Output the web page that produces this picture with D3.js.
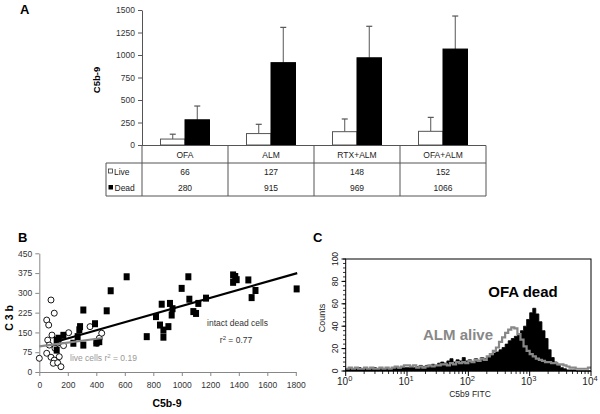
<!DOCTYPE html>
<html><head><meta charset="utf-8">
<script src="https://cdn.jsdelivr.net/npm/d3@7"></script>
<style>body{margin:0;background:#fff} svg{display:block;font-family:Arial,"Liberation Sans",sans-serif}</style>
</head><body><svg id="c" width="600" height="414"></svg>
<script>
// ---------- Panel A data ----------
const categories = ["OFA","ALM","RTX+ALM","OFA+ALM"];
const liveValues = [66,127,148,152];
const deadValues = [280,915,969,1066];
const liveErrors = [54,103,141,155];
const deadErrors = [153,392,350,367];
const barTicks = [0,250,500,750,1000,1250,1500];

// ---------- Panel B data: [C5b-9, C3b] ----------
const liveCells = [[0,52],[82,273],[105,223],[52,197],[66,178],[89,140],[59,121],[70,102],[52,71],[82,56],
  [105,45],[98,33],[129,35],[152,20],[140,58],[206,149],[356,172],[405,109],[421,128],[438,147],[130,110],[110,90],[170,100]];
const deadCells = [[122,83],[122,121],[136,128],[169,139],[239,109],[269,134],[281,160],[286,172],[309,102],[309,235],
  [391,183],[400,110],[421,115],[473,232],[501,308],[613,361],[754,134],[819,210],[847,178],[859,257],[871,159],[871,132],
  [906,172],[917,260],[929,216],[935,240],[999,317],[1046,361],[1053,276],[1081,229],[1100,222],[1116,260],[1170,280],
  [1360,368],[1375,362],[1360,340],[1385,350],[1467,349],[1490,282],[1517,309],[1806,315]];
const liveFit = [[0,97],[445,129]];
const deadFit = [[105,113],[1810,375]];
const scatterXTicks = [0,200,400,600,800,1000,1200,1400,1600,1800];
const scatterYTicks = [0,75,150,225,300,375,450];

// ---------- Panel C data: 20 bins per decade, 10^0 .. 10^4 ----------
const binsPerDecade = 20;
const ofaDead = [2,3,2,2,3,2,3,2,2,3,2,3,2,3,2,3,3,2,3,3,
  3,4,3,4,5,4,5,5,6,5,7,8,7,9,11,8,10,9,12,9,
  10,8,11,9,12,11,13,14,16,17,19,21,24,27,29,31,33,36,40,46,
  52,56,51,44,36,29,19,12,8,5,3,2,1,1,1,0,0,0,0,0];
const almAlive = [2,3,2,3,2,2,3,2,3,2,2,3,2,3,2,3,4,3,4,5,
  5,4,5,3,4,3,4,5,4,5,5,6,6,5,7,6,8,7,8,7,
  9,8,10,9,11,10,13,15,18,21,26,30,34,37,39,38,33,28,22,18,
  15,13,11,10,9,8,8,7,7,6,6,5,4,3,3,2,2,2,2,3];
const histYTicks = [0,20,40,60,80,100];
const histXDecades = [0,1,2,3,4];

const svg = d3.select("#c");

// ================= Panel A =================
const gA = svg.append("g");
gA.append("text").attr("x",20).attr("y",14).attr("font-size",13).attr("font-weight","bold").text("A");
const xA = d3.scaleBand().domain(categories).range([142,486]).padding(0);
const xIn = d3.scaleBand().domain(["live","dead"]).range([0,xA.bandwidth()]).paddingInner(0).paddingOuter(0.755);
const yA = d3.scaleLinear().domain([0,1500]).range([145,10]);

const axA = gA.append("g").attr("transform","translate(142,0)")
  .call(d3.axisLeft(yA).tickValues(barTicks).tickFormat(d3.format("d")).tickSize(4).tickSizeOuter(0));
axA.select(".domain").attr("stroke","#555");
axA.selectAll(".tick line").attr("stroke","#555");
axA.selectAll("text").attr("font-size",8.5).attr("fill","#333").attr("font-family","Arial, 'Liberation Sans', sans-serif");
gA.append("text").attr("transform","translate(100,80) rotate(-90)").attr("text-anchor","middle")
  .attr("font-size",9.5).attr("font-weight","bold").text("C5b-9");

const barData = categories.map((c,i)=>[
  {c, k:"live", v:liveValues[i], e:liveErrors[i]},
  {c, k:"dead", v:deadValues[i], e:deadErrors[i]}]).flat();
gA.selectAll(".err").data(barData).join("g").each(function(d){
  const cx = xA(d.c)+xIn(d.k)+xIn.bandwidth()/2;
  const g = d3.select(this);
  g.append("line").attr("x1",cx).attr("x2",cx).attr("y1",yA(d.v)).attr("y2",yA(d.v+d.e)).attr("stroke","#555").attr("stroke-width",1);
  g.append("line").attr("x1",cx-3).attr("x2",cx+3).attr("y1",yA(d.v+d.e)).attr("y2",yA(d.v+d.e)).attr("stroke","#555").attr("stroke-width",1.2);
});
gA.selectAll(".bar").data(barData).join("rect")
  .attr("x",d=>xA(d.c)+xIn(d.k)).attr("width",xIn.bandwidth())
  .attr("y",d=>yA(d.v)).attr("height",d=>yA(0)-yA(d.v))
  .attr("fill",d=>d.k==="live"?"#fff":"#000").attr("stroke",d=>d.k==="live"?"#555":"#000").attr("stroke-width",1);

// table
const tTop=145.5, r1=163, tBot=196, legL=106;
const tl = gA.append("g").attr("stroke","#555").attr("stroke-width",1);
tl.append("line").attr("x1",142).attr("x2",486).attr("y1",tTop).attr("y2",tTop);
tl.append("line").attr("x1",legL).attr("x2",486).attr("y1",r1).attr("y2",r1);
tl.append("line").attr("x1",legL).attr("x2",486).attr("y1",tBot).attr("y2",tBot);
tl.append("line").attr("x1",legL).attr("x2",legL).attr("y1",r1).attr("y2",tBot);
const bounds = categories.map(c=>xA(c)).concat([xA.range()[1]]);
tl.selectAll(".vl").data(bounds).join("line").attr("x1",d=>d).attr("x2",d=>d).attr("y1",tTop).attr("y2",tBot);
const tt = gA.append("g").attr("font-size",8.5).attr("fill","#222").attr("text-anchor","middle");
tt.selectAll(".cat").data(categories).join("text").attr("x",d=>xA(d)+xA.bandwidth()/2).attr("y",157.5).text(d=>d);
tt.selectAll(".lv").data(liveValues).join("text").attr("x",(d,i)=>xA(categories[i])+xA.bandwidth()/2).attr("y",175).text(d=>d);
tt.selectAll(".dv").data(deadValues).join("text").attr("x",(d,i)=>xA(categories[i])+xA.bandwidth()/2).attr("y",191).text(d=>d);
gA.append("rect").attr("x",108.5).attr("y",169).attr("width",4).attr("height",4).attr("fill","#fff").attr("stroke","#333").attr("stroke-width",0.8);
gA.append("rect").attr("x",108.5).attr("y",185).attr("width",4.5).attr("height",4.5).attr("fill","#000");
gA.append("text").attr("x",114).attr("y",175).attr("font-size",8.5).attr("fill","#222").text("Live");
gA.append("text").attr("x",114.5).attr("y",191).attr("font-size",8.5).attr("fill","#222").text("Dead");

// ================= Panel B =================
const gB = svg.append("g");
gB.append("text").attr("x",18).attr("y",241.5).attr("font-size",13).attr("font-weight","bold").text("B");
const xB = d3.scaleLinear().domain([0,1800]).range([39.3,295.8]);
const yB = d3.scaleLinear().domain([0,450]).range([372,253.3]);
const axBx = gB.append("g").attr("transform","translate(0,372)")
  .call(d3.axisBottom(xB).tickValues(scatterXTicks).tickFormat(d3.format("d")).tickSize(4).tickSizeOuter(0));
const axBy = gB.append("g").attr("transform","translate(39.3,0)")
  .call(d3.axisLeft(yB).tickValues(scatterYTicks).tickFormat(d3.format("d")).tickSize(4).tickSizeOuter(0));
[axBx,axBy].forEach(a=>{
  a.select(".domain").attr("stroke","#888");
  a.selectAll(".tick line").attr("stroke","#888");
  a.selectAll("text").attr("font-size",8.5).attr("fill","#333").attr("font-family","Arial, 'Liberation Sans', sans-serif");
});
axBx.selectAll("text").attr("dy","1.1em");
gB.append("text").attr("x",167).attr("y",407).attr("text-anchor","middle").attr("font-size",10.5).attr("font-weight","bold").text("C5b-9");
gB.append("text").attr("transform","translate(13,318) rotate(-90)").attr("text-anchor","middle").attr("font-size",10.5).attr("font-weight","bold").text("C 3 b");

gB.selectAll(".lc").data(liveCells).join("circle")
  .attr("cx",d=>xB(d[0])).attr("cy",d=>yB(d[1])).attr("r",3).attr("fill","#fff").attr("stroke","#000").attr("stroke-width",0.9);
gB.selectAll(".dc").data(deadCells).join("rect")
  .attr("x",d=>xB(d[0])-3).attr("y",d=>yB(d[1])-3.5).attr("width",6).attr("height",7).attr("fill","#000");
const lineB = d3.line().x(d=>xB(d[0])).y(d=>yB(d[1]));
gB.append("path").attr("d",lineB(deadFit)).attr("stroke","#000").attr("stroke-width",2.2).attr("fill","none");
gB.append("path").attr("d",lineB(liveFit)).attr("stroke","#888").attr("stroke-width",2.2).attr("fill","none");

const lt = gB.append("text").attr("x",70).attr("y",361).attr("font-size",8.5).attr("fill","#999");
lt.append("tspan").text("live cells r");
lt.append("tspan").attr("dy",-3).attr("font-size",6).text("2");
lt.append("tspan").attr("dy",3).text(" = 0.19");
gB.append("text").attr("x",237.5).attr("y",326).attr("text-anchor","middle").attr("font-size",8.5).attr("fill","#333").text("intact dead cells");
const rt = gB.append("text").attr("x",236).attr("y",342.5).attr("text-anchor","middle").attr("font-size",8.5).attr("fill","#333");
rt.append("tspan").text("r");
rt.append("tspan").attr("dy",-3).attr("font-size",6).text("2");
rt.append("tspan").attr("dy",3).text(" = 0.77");

// ================= Panel C =================
const gC = svg.append("g");
gC.append("text").attr("x",313).attr("y",242).attr("font-size",13).attr("font-weight","bold").text("C");
const xC = d3.scaleLog().domain([1,1e4]).range([345.7,591]);
const yC = d3.scaleLinear().domain([0,100]).range([371,259]);
const edge = i => Math.pow(10, i/binsPerDecade);
const stepPts = arr => arr.map((v,i)=>[edge(i),v]).concat([[edge(arr.length),arr[arr.length-1]]]);
const areaC = d3.area().curve(d3.curveStepAfter).x(d=>xC(d[0])).y0(yC(0)).y1(d=>yC(d[1]));
const lineC = d3.line().curve(d3.curveStepAfter).x(d=>xC(d[0])).y(d=>yC(d[1]));
gC.append("path").attr("d",areaC(stepPts(ofaDead))).attr("fill","#000").attr("stroke","#000").attr("stroke-width",0.8);
gC.append("path").attr("d",lineC(stepPts(almAlive))).attr("fill","none").attr("stroke","#888").attr("stroke-width",2.2);

gC.append("rect").attr("x",345.7).attr("y",259).attr("width",591-345.7).attr("height",371-259)
  .attr("fill","none").attr("stroke","#000").attr("stroke-width",1);
const yMinor = d3.range(0,101,4);
gC.selectAll(".ymt").data(yMinor).join("line").attr("x1",345.7).attr("x2",343).attr("y1",d=>yC(d)).attr("y2",d=>yC(d)).attr("stroke","#000").attr("stroke-width",0.8);
gC.selectAll(".yMt").data(histYTicks).join("line").attr("x1",345.7).attr("x2",341.5).attr("y1",d=>yC(d)).attr("y2",d=>yC(d)).attr("stroke","#000");
gC.selectAll(".ytl").data(histYTicks).join("text")
  .attr("transform",d=>`translate(338,${yC(d)}) rotate(-90)`).attr("text-anchor","middle")
  .attr("font-size",8.5).attr("fill","#222").text(d=>d);
gC.append("text").attr("transform","translate(325,318) rotate(-90)").attr("text-anchor","middle").attr("font-size",9).attr("fill","#222").text("Counts");
const xMinor = [];
histXDecades.slice(0,-1).forEach(dd=>{ for(let m=2;m<=9;m++) xMinor.push(m*Math.pow(10,dd)); });
gC.selectAll(".xmt").data(xMinor).join("line").attr("x1",d=>xC(d)).attr("x2",d=>xC(d)).attr("y1",371).attr("y2",374).attr("stroke","#000").attr("stroke-width",0.8);
gC.selectAll(".xMt").data(histXDecades).join("line").attr("x1",d=>xC(Math.pow(10,d))).attr("x2",d=>xC(Math.pow(10,d))).attr("y1",371).attr("y2",376).attr("stroke","#000");
const xl = gC.selectAll(".xtl").data(histXDecades).join("text")
  .attr("x",d=>xC(Math.pow(10,d))-1).attr("y",385).attr("text-anchor","middle").attr("font-size",10).attr("fill","#222");
xl.append("tspan").text("10");
xl.append("tspan").attr("dy",-4.5).attr("font-size",7.5).text(d=>d);
gC.append("text").attr("x",470).attr("y",397).attr("text-anchor","middle").attr("font-size",8.5).attr("fill","#222").text("C5b9 FITC");

gC.append("text").attr("x",523).attr("y",297).attr("text-anchor","middle").attr("font-size",15).attr("font-weight","bold").attr("fill","#000").text("OFA dead");
gC.append("text").attr("x",458).attr("y",340).attr("text-anchor","middle").attr("font-size",15).attr("font-weight","bold").attr("fill","#888").text("ALM alive");
</script></body></html>
